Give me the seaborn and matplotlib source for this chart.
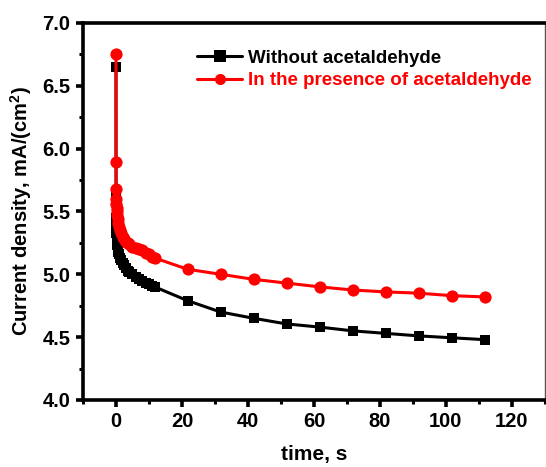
import matplotlib
matplotlib.use("Agg")
import matplotlib.pyplot as plt
from matplotlib.ticker import MultipleLocator, FormatStrFormatter
import seaborn as sns
import pandas as pd

# Chronoamperometry: current density vs time
time_s = [0, 0.02, 0.05, 0.1, 0.15, 0.2, 0.3, 0.4, 0.5, 0.7, 0.9, 1.2, 1.5, 2.0,
          2.5, 3.0, 3.5, 4.0, 5.0, 6.0, 7.0, 8.0, 9.0, 10.0, 11.0, 11.7,
          21.7, 31.7, 41.7, 51.7, 61.7, 71.7, 81.7, 91.7, 101.7, 111.7]

without_acetaldehyde = [6.65, 5.65, 5.45, 5.38, 5.33, 5.30, 5.26, 5.23, 5.21, 5.18,
                        5.16, 5.13, 5.11, 5.09, 5.07, 5.05, 5.03, 5.02, 5.00, 4.98,
                        4.96, 4.95, 4.93, 4.92, 4.91, 4.90,
                        4.79, 4.70, 4.65, 4.605, 4.58, 4.55, 4.53, 4.51, 4.495, 4.48]

with_acetaldehyde = [6.75, 5.89, 5.68, 5.60, 5.56, 5.53, 5.50, 5.47, 5.44, 5.41,
                     5.38, 5.35, 5.33, 5.30, 5.28, 5.26, 5.25, 5.24, 5.22, 5.21,
                     5.20, 5.19, 5.17, 5.16, 5.14, 5.13,
                     5.04, 5.00, 4.96, 4.93, 4.90, 4.875, 4.86, 4.85, 4.83, 4.82]

series_names = ["Without acetaldehyde", "In the presence of acetaldehyde"]
series_colors = ["#000000", "#ff0000"]
series_markers = ["s", "o"]

df = pd.concat([
    pd.DataFrame({"time": time_s, "j": without_acetaldehyde, "series": series_names[0]}),
    pd.DataFrame({"time": time_s, "j": with_acetaldehyde, "series": series_names[1]}),
], ignore_index=True)

sns.set_style("ticks")
plt.rcParams["font.family"] = ["Liberation Sans", "DejaVu Sans"]
plt.rcParams["font.weight"] = "bold"
plt.rcParams["text.color"] = "black"
plt.rcParams["axes.labelcolor"] = "black"
plt.rcParams["xtick.color"] = "black"
plt.rcParams["ytick.color"] = "black"
plt.rcParams["axes.edgecolor"] = "black"
plt.rcParams["mathtext.fontset"] = "custom"
plt.rcParams["mathtext.rm"] = "Liberation Sans:bold"
plt.rcParams["mathtext.it"] = "Liberation Sans:bold"
plt.rcParams["mathtext.bf"] = "Liberation Sans:bold"

fig = plt.figure(figsize=(5.46, 4.67), dpi=100)
ax = fig.add_axes([0.152, 0.1435, 0.846, 0.8075])

sns.lineplot(data=df, x="time", y="j", hue="series", style="series",
             hue_order=series_names, style_order=series_names,
             palette=dict(zip(series_names, series_colors)),
             markers=dict(zip(series_names, series_markers)),
             dashes=False, sort=False, estimator=None,
             linewidth=2.2, markersize=8, markeredgewidth=0, ax=ax)

# square markers a touch smaller than the circles
for line, ms in zip(ax.get_lines()[:2], [7.5, 8.8]):
    line.set_markersize(ms)

ax.set_xlim(-10, 130)
ax.set_ylim(4.0, 7.0)
ax.xaxis.set_major_locator(MultipleLocator(20))
ax.xaxis.set_minor_locator(MultipleLocator(10))
ax.yaxis.set_major_locator(MultipleLocator(0.5))
ax.yaxis.set_minor_locator(MultipleLocator(0.25))
ax.yaxis.set_major_formatter(FormatStrFormatter("%.1f"))

for side in ["left", "bottom", "top"]:
    ax.spines[side].set_linewidth(2.6)
    ax.spines[side].set_color("black")
ax.spines["right"].set_linewidth(1.0)
ax.spines["right"].set_color("#555555")

ax.tick_params(which="major", direction="out", length=5, width=2.6,
               labelsize=14.5, pad=4, top=False, right=False, colors="black")
ax.tick_params(which="minor", direction="out", length=3, width=2.2,
               top=False, right=False, colors="black")
for lab in ax.get_xticklabels() + ax.get_yticklabels():
    lab.set_fontweight("bold")

ax.set_xlabel("time, s", fontsize=15, fontweight="bold", labelpad=10, color="black")
ax.set_ylabel("Current density, mA/(cm$^2$)", fontsize=14.5, fontweight="bold",
              labelpad=6, color="black")

handles, labels = ax.get_legend_handles_labels()
for h in handles:
    h.set_linewidth(2.2)
leg = ax.legend(handles, labels, loc="upper left", bbox_to_anchor=(0.219, 0.964),
                frameon=False, handlelength=2.4, handletextpad=0.3,
                labelspacing=0.3, borderaxespad=0.3, labelcolor="linecolor",
                prop={"weight": "bold", "size": 13.5})

fig.savefig("out.png", dpi=100)
